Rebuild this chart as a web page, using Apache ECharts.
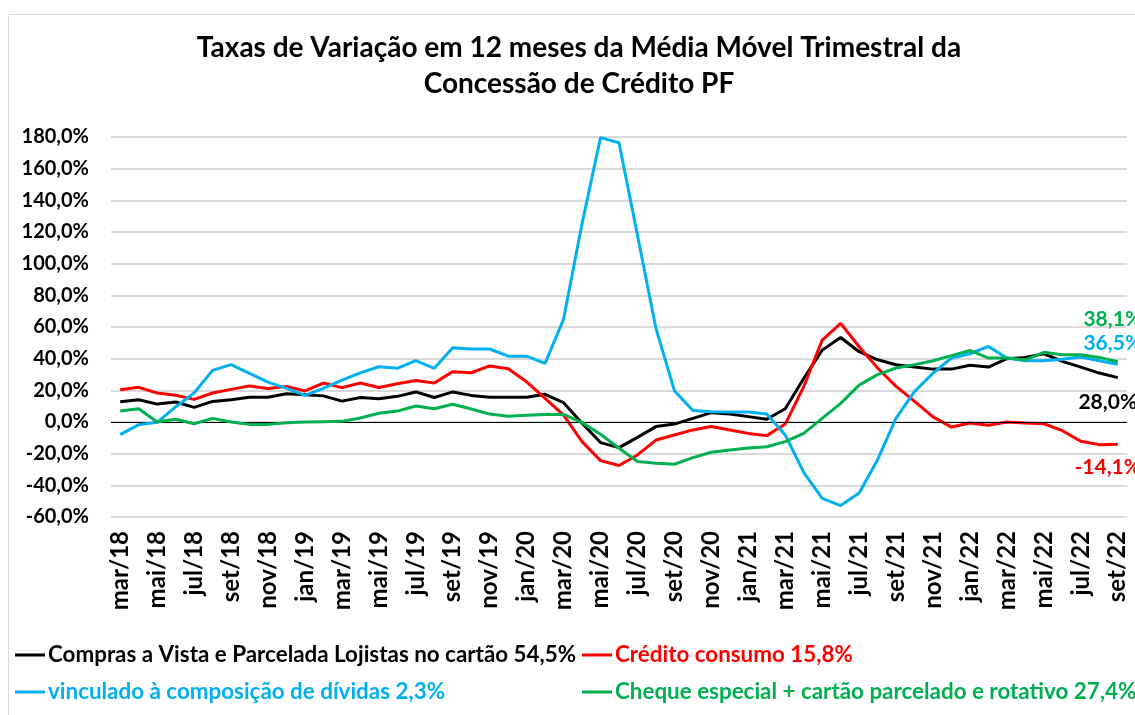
<!DOCTYPE html>
<html>
<head>
<meta charset="utf-8">
<script src="https://cdn.jsdelivr.net/npm/echarts@6/dist/echarts.min.js"></script>
<style>
  html, body { margin: 0; padding: 0; background: #ffffff; }
  #chart { width: 1135px; height: 715px; }
</style>
</head>
<body>
<div id="chart"></div>
<script>
const categories = [
  'mar/18','abr/18','mai/18','jun/18','jul/18','ago/18','set/18','out/18','nov/18','dez/18',
  'jan/19','fev/19','mar/19','abr/19','mai/19','jun/19','jul/19','ago/19','set/19','out/19','nov/19','dez/19',
  'jan/20','fev/20','mar/20','abr/20','mai/20','jun/20','jul/20','ago/20','set/20','out/20','nov/20','dez/20',
  'jan/21','fev/21','mar/21','abr/21','mai/21','jun/21','jul/21','ago/21','set/21','out/21','nov/21','dez/21',
  'jan/22','fev/22','mar/22','abr/22','mai/22','jun/22','jul/22','ago/22','set/22'
];

const seriesNames = [
  'Compras a Vista e Parcelada Lojistas no cartão 54,5%',
  'Crédito consumo 15,8%',
  'vinculado à composição de dívidas 2,3%',
  'Cheque especial + cartão parcelado e rotativo 27,4%'
];

const comprasVista = [
  12.8, 14.0, 11.3, 12.6, 9.2, 13.0, 14.1, 15.6, 15.6, 17.8,
  17.2, 16.5, 13.2, 15.5, 14.7, 16.2, 19.0, 15.5, 19.0, 16.8, 15.6, 15.6,
  15.6, 17.5, 12.2, -0.8, -13.0, -16.2, -9.7, -2.9, -1.3, 2.3, 5.9, 5.0,
  3.4, 1.7, 8.4, 27.5, 45.4, 53.4, 44.4, 39.3, 36.2, 34.7, 33.4, 33.4,
  35.8, 34.7, 40.0, 40.8, 43.1, 38.3, 34.7, 30.9, 28.0
];

const creditoConsumo = [
  20.4, 21.9, 18.3, 16.9, 14.3, 18.3, 20.6, 22.8, 21.2, 22.5,
  19.6, 24.6, 21.7, 24.6, 21.8, 24.1, 26.2, 24.6, 31.8, 31.1, 35.4, 33.6,
  25.4, 14.9, 4.4, -12.4, -24.4, -27.5, -20.8, -11.4, -8.2, -5.0, -2.9, -5.0,
  -7.2, -8.6, -1.3, 22.3, 51.7, 62.3, 47.5, 34.1, 22.5, 13.0, 3.2, -3.2,
  -0.6, -2.1, 0.0, -0.6, -1.1, -5.5, -12.2, -14.3, -14.1
];

const vinculadoDividas = [
  -8.0, -1.7, -0.2, 9.5, 18.3, 32.6, 36.2, 30.7, 25.2, 21.2,
  16.8, 21.2, 26.5, 31.0, 34.9, 33.9, 38.7, 33.9, 46.9, 46.1, 46.1, 41.6,
  41.6, 37.0, 65.0, 125.3, 179.6, 176.4, 118.0, 59.1, 19.8, 7.2, 6.5, 6.3,
  6.3, 5.0, -8.2, -31.8, -48.2, -52.8, -44.8, -23.8, 2.5, 19.3, 30.9, 40.4,
  43.1, 47.7, 40.4, 38.7, 38.7, 39.7, 41.0, 38.7, 36.5
];

const chequeEspecial = [
  6.9, 8.4, 0.0, 1.7, -1.1, 2.3, 0.0, -1.5, -1.5, -0.4,
  0.0, 0.2, 0.4, 2.5, 5.5, 6.9, 10.1, 8.4, 11.2, 8.2, 5.0, 3.7,
  4.3, 4.8, 4.8, -0.4, -7.7, -16.6, -25.0, -26.1, -26.7, -22.5, -19.1, -17.7,
  -16.4, -15.6, -12.4, -7.2, 2.3, 11.8, 23.3, 29.9, 34.1, 36.2, 38.7, 41.9,
  45.2, 40.4, 40.4, 39.3, 44.0, 42.5, 42.5, 40.8, 38.1
];

const colors = ['#000000', '#ff0000', '#00b0f0', '#00b050'];
const FONT = 'Lato, Carlito, Calibri, "Open Sans", sans-serif';

function fmt(v) { return v.toFixed(1).replace('.', ',') + '%'; }

// offsets [dx, dy] of the end labels relative to the last point
const endOffsets = [[-10, 25], [-10, 23], [-5, -21], [-5, -42]];

function buildData(arr, idx) {
  return arr.map((v, i) => {
    if (i === arr.length - 1) {
      return {
        value: v,
        label: {
          show: true,
          position: 'inside',
          offset: endOffsets[idx],
          formatter: (p) => fmt(p.value),
          color: colors[idx],
          fontFamily: FONT,
          fontWeight: 'bold',
          fontSize: 21
        }
      };
    }
    return v;
  });
}

const allData = [comprasVista, creditoConsumo, vinculadoDividas, chequeEspecial];

const series = allData.map((arr, idx) => {
  const s = {
    name: seriesNames[idx],
    type: 'line',
    data: buildData(arr, idx),
    showSymbol: true,
    showAllSymbol: true,
    symbol: 'circle',
    symbolSize: 0,
    smooth: false,
    lineStyle: { color: colors[idx], width: 3 },
    itemStyle: { color: colors[idx] },
    emphasis: { disabled: true },
    z: 3 + idx
  };
  if (idx === 0) {
    s.markLine = {
      silent: true,
      symbol: 'none',
      label: { show: false },
      lineStyle: { color: '#000000', width: 1, type: 'solid' },
      data: [{ yAxis: 0 }],
      animation: false
    };
  }
  return s;
});

const legendPos = [
  { left: 15, top: 644 },
  { left: 582, top: 644 },
  { left: 15, top: 681 },
  { left: 582, top: 681 }
];

const legends = seriesNames.map((n, i) => ({
  left: legendPos[i].left,
  top: legendPos[i].top,
  orient: 'horizontal',
  icon: 'rect',
  itemWidth: 30,
  itemHeight: 3,
  itemGap: 0,
  padding: 0,
  data: [{ name: n, textStyle: { color: colors[i] } }],
  textStyle: { fontFamily: FONT, fontWeight: 'bold', fontSize: 22.4, padding: [0, 0, 0, -2] },
  selectedMode: false
}));

const chart = echarts.init(document.getElementById('chart'), null, { renderer: 'canvas' });
chart.setOption({
  animation: false,
  backgroundColor: '#ffffff',
  title: {
    text: 'Taxas de Variação em 12 meses da Média Móvel Trimestral da\nConcessão de Crédito PF',
    left: 574,
    top: 25,
    textAlign: 'center',
    textStyle: {
      fontFamily: FONT,
      fontWeight: 'bold',
      fontSize: 28,
      lineHeight: 36,
      color: '#000000'
    }
  },
  graphic: [{
    type: 'rect',
    shape: { x: 8.5, y: 14.5, width: 1140, height: 720 },
    style: { fill: 'none', stroke: '#d9d9d9', lineWidth: 1 },
    silent: true
  }],
  legend: legends,
  grid: { left: 111, right: 8, top: 137, bottom: 198, containLabel: false },
  xAxis: {
    type: 'category',
    data: categories,
    boundaryGap: true,
    axisLine: { show: false },
    axisTick: { show: false },
    splitLine: { show: false },
    axisLabel: {
      interval: 1,
      rotate: 90,
      margin: 14,
      color: '#000000',
      fontFamily: FONT,
      fontWeight: 'bold',
      fontSize: 24
    }
  },
  yAxis: {
    type: 'value',
    min: -60,
    max: 180,
    interval: 20,
    axisLine: { show: false },
    axisTick: { show: false },
    splitLine: { show: true, lineStyle: { color: '#d9d9d9', width: 2 } },
    axisLabel: {
      formatter: (v) => fmt(v),
      margin: 22,
      color: '#000000',
      fontFamily: FONT,
      fontWeight: 'bold',
      fontSize: 20
    }
  },
  series: series
});
</script>
</body>
</html>
